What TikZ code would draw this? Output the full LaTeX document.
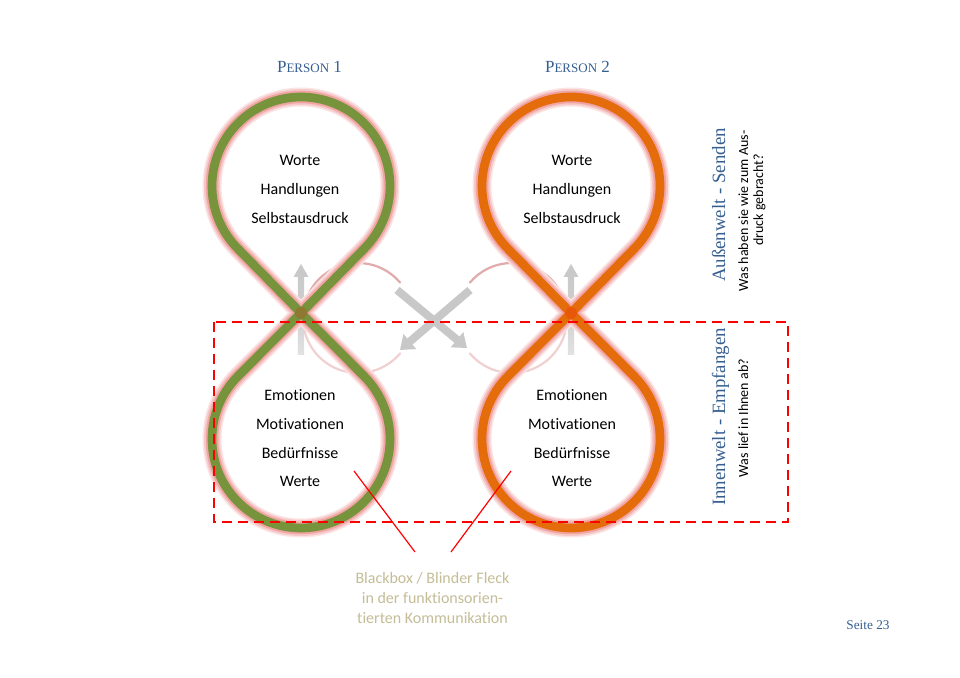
\documentclass[tikz,border=0pt]{standalone}
\usepackage{fontspec}
\setmainfont{Carlito}[Ligatures=NoCommon]
\newfontfamily\seriffont{Liberation Serif}
\usetikzlibrary{arrows.meta}
\definecolor{pgreen}{HTML}{77933C}
\definecolor{porange}{HTML}{E46C0A}
\definecolor{titleblue}{HTML}{365F91}
\definecolor{tantext}{HTML}{C4BD97}
\definecolor{pinkup}{HTML}{E2ABAB}
\definecolor{pinklow}{HTML}{F0D0D0}
\definecolor{arrowgray}{HTML}{C8C8C8}
\definecolor{arrowlight}{HTML}{E2E2E2}
\definecolor{glowa}{HTML}{FBE4E4}
\definecolor{glowb}{HTML}{F7C8C8}
\definecolor{glowc}{HTML}{F0A4A4}
\newcommand\figeight[2]{%
  \pgfmathsetmacro\xa{#1+63.48}%
  \foreach \w/\c in {19/glowa,16/glowb,12.5/glowc,8.7/#2}{%
    \draw[line width=\w pt, draw=\c, line join=round]
      (#1,364) -- (\xa,428.62) arc[start angle=-44.5,end angle=224.5,radius=89]
      -- (#1,364) -- (\xa,300.38) arc[start angle=44.5,end angle=-224.5,radius=89]
      -- cycle;}%
  \fill[red, opacity=0.18] (#1,364) circle[radius=6];
}
\newcommand\uparrowshape[1]{%
  \shade[top color=arrowgray, bottom color=arrowlight, middle color=arrowgray!75!arrowlight]
    (#1-3.2,322) -- (#1-3.2,400) -- (#1-7.5,400) -- (#1,413) -- (#1+7.5,400) -- (#1+3.2,400) -- (#1+3.2,322) -- cycle;
}
\begin{document}
\begin{tikzpicture}[x=1pt,y=1pt,
  body/.style={font=\fontsize{16}{19}\selectfont, anchor=base, inner sep=0pt},
  note/.style={font=\fontsize{14}{17}\selectfont, anchor=base, inner sep=0pt},
  heading/.style={font=\seriffont\fontsize{18.8}{22}\selectfont, text=titleblue, anchor=base, inner sep=0pt},
  diagarrow/.style={line width=8pt, draw=arrowgray, -{Triangle[width=19pt,length=13pt]}},
  pinkline/.style={line width=2.2pt, line cap=round},
  redline/.style={draw=red, line width=1.2pt},
  blackbox/.style={draw=red, line width=1.5pt, dash pattern=on 10pt off 6pt}]
\useasboundingbox (0,0) rectangle (960,677);
\fill[white] (0,0) rectangle (960,677);

% pink loops
\draw[pinkline, draw=pinkup] (358,359) ++(40:55) arc[start angle=40, end angle=180, radius=55];
\draw[pinkline, draw=pinklow] (358,359) ++(180:55) arc[start angle=180, end angle=320, radius=55];
\draw[pinkline, draw=pinkup] (512,359) ++(140:55) arc[start angle=140, end angle=0, radius=55];
\draw[pinkline, draw=pinklow] (512,359) ++(0:55) arc[start angle=0, end angle=-140, radius=55];

% grey arrows
\uparrowshape{301}
\uparrowshape{571}
\coordinate (a1s) at (397,387);
\coordinate (a1e) at (467,329);
\coordinate (a2s) at (470,387);
\coordinate (a2e) at (400,327);
\draw[diagarrow] (a1s) -- (a1e);
\draw[diagarrow] (a2s) -- (a2e);

% figure eights
\figeight{301}{pgreen}
\figeight{571}{porange}

% blackbox rectangle and pointers
\draw[blackbox] (214,355) rectangle (788,155);
\coordinate (p1s) at (354,206);
\coordinate (p1e) at (415,125);
\coordinate (p2s) at (511,206);
\coordinate (p2e) at (451,125);
\draw[redline] (p1s) -- (p1e);
\draw[redline] (p2s) -- (p2e);

% titles
\node[anchor=base, inner sep=0pt, text=titleblue, font=\seriffont] (t1) at (309.5,604)
  {{\fontsize{17}{20}\selectfont P}{\fontsize{13}{16}\selectfont ERSON}{\fontsize{17}{20}\selectfont\ 1}};
\node[anchor=base, inner sep=0pt, text=titleblue, font=\seriffont] (t2) at (577.5,604)
  {{\fontsize{17}{20}\selectfont P}{\fontsize{13}{16}\selectfont ERSON}{\fontsize{17}{20}\selectfont\ 2}};

% person 1 texts
\node[body] (w1) at (300,511) {Worte};
\node[body] (h1) at (300,482) {Handlungen};
\node[body] (s1) at (300,453) {Selbstausdruck};
\node[body] (e1) at (300,276) {Emotionen};
\node[body] (m1) at (300,247) {Motivationen};
\node[body] (b1) at (300,218) {Bedürfnisse};
\node[body] (v1) at (300,190) {Werte};
% person 2 texts
\node[body] (w2) at (572,511) {Worte};
\node[body] (h2) at (572,482) {Handlungen};
\node[body] (s2) at (572,453) {Selbstausdruck};
\node[body] (e2) at (572,276) {Emotionen};
\node[body] (m2) at (572,247) {Motivationen};
\node[body] (b2) at (572,218) {Bedürfnisse};
\node[body] (v2) at (572,190) {Werte};

% right side texts
\node[heading, rotate=90] (aw) at (725,472) {Außenwelt - Senden};
\node[note, rotate=90] (awq1) at (748,466) {Was haben sie wie zum Aus-};
\node[note, rotate=90] (awq2) at (763,477) {druck gebracht?};
\node[heading, rotate=90] (iw) at (725,260) {Innenwelt - Empfangen};
\node[note, rotate=90] (iwq) at (748,259) {Was lief in Ihnen ab?};

% bottom note
\node[body, text=tantext] (bb1) at (432.5,93) {Blackbox / Blinder Fleck};
\node[body, text=tantext] (bb2) at (432.5,74) {in der funktionsorien-};
\node[body, text=tantext] (bb3) at (432.5,54) {tierten Kommunikation};

% page number
\node[anchor=base, inner sep=0pt, text=titleblue, font=\seriffont\fontsize{13.3}{16}\selectfont] (pg) at (868,48) {Seite 23};
\end{tikzpicture}
\end{document}
